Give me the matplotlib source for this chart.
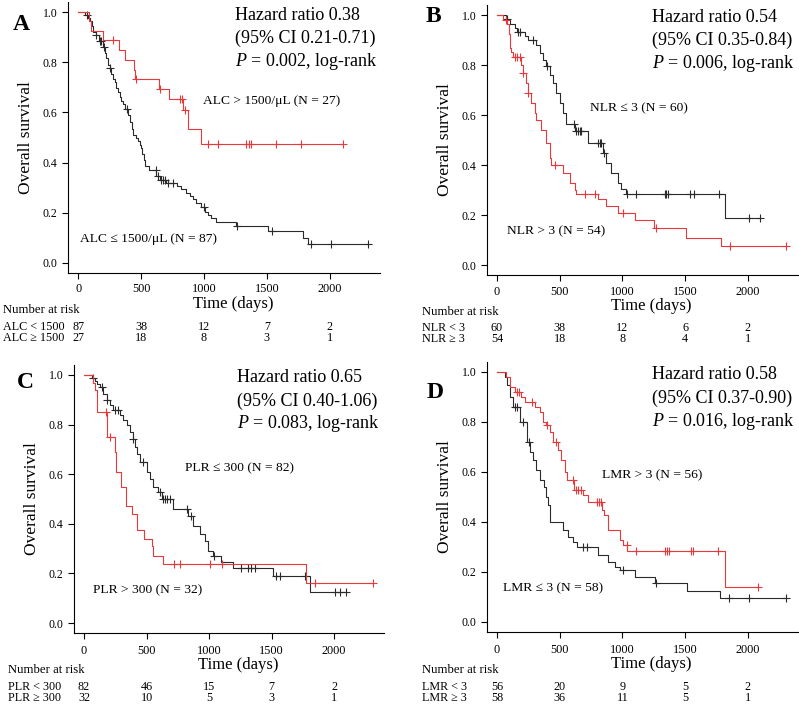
import numpy as np
import matplotlib
matplotlib.use("Agg")
from matplotlib import pyplot as plt
from matplotlib.transforms import blended_transform_factory

plt.rcParams['font.family'] = ['Liberation Serif', 'DejaVu Serif']
plt.rcParams['mathtext.fontset'] = 'custom'
plt.rcParams['mathtext.rm'] = 'Liberation Serif'
plt.rcParams['mathtext.it'] = 'Liberation Serif:italic'

RED = '#e8383b'
BLK = '#2a2a2a'

# ---- panel A: ALC ----
a_lo_t = [53, 80, 93, 108, 119, 140, 165, 195, 215, 225, 240, 252, 265, 280, 291, 305, 318, 330, 345, 358,
          375, 400, 411, 425, 437, 460, 477, 490, 503, 512, 522, 535, 560, 623, 650, 700, 790, 821, 861, 890,
          915, 940, 980, 1007, 1033, 1060, 1099, 1255, 1510, 1788, 1828]
a_lo_s = [.989, .977, .966, .943, .92, .908, .885, .862, .838, .815, .79, .778, .755, .732, .72, .697, .68, .66, .645, .635,
          .612, .588, .56, .535, .51, .497, .485, .47, .458, .435, .412, .385, .372, .345, .332, .319, .306, .293, .28, .266,
          .253, .24, .225, .205, .19, .178, .165, .146, .128, .10, .075]
a_lo_c = [72, 146, 172, 185, 204, 252, 392, 617, 636, 662, 675, 689, 715, 755, 1000, 1264, 1544, 1854, 2013, 2305]
a_hi_t = [87, 106, 199, 326, 371, 442, 450, 644, 723, 834, 877, 980]
a_hi_s = [.963, .926, .889, .85, .81, .77, .735, .695, .652, .61, .535, .475]
a_hi_c = [278, 458, 649, 808, 829, 852, 1033, 1113, 1338, 1359, 1377, 1571, 1775, 2106]

# ---- panel B: NLR ----
b_lo_t = [74, 101, 141, 160, 220, 250, 313, 340, 367, 393, 420, 446, 473, 499, 526, 552, 619, 725, 845, 871,
          911, 964, 991, 1031, 1814]
b_lo_s = [.983, .966, .949, .932, .915, .90, .88, .85, .82, .797, .76, .73, .69, .65, .61, .565, .535, .49, .45, .41,
          .37, .33, .305, .285, .19]
b_lo_c = [80, 167, 186, 287, 395, 611, 632, 645, 658, 672, 805, 818, 831, 851, 1036, 1110, 1336, 1350, 1363, 1540,
          1567, 1769, 2013, 2093]
b_hi_t = [48, 80, 95, 101, 110, 130, 194, 207, 234, 247, 274, 300, 313, 353, 393, 420, 433, 526, 579, 619,
          632, 805, 871, 964, 1097, 1250, 1509, 1782]
b_hi_s = [.981, .963, .926, .87, .852, .833, .80, .77, .73, .69, .65, .61, .58, .54, .49, .43, .40, .37, .33, .30,
          .285, .265, .235, .21, .18, .15, .11, .075]
b_hi_c = [69, 141, 159, 181, 209, 249, 459, 699, 778, 1004, 1265, 1854, 2305]

# ---- panel C: PLR ----
c_lo_t = [61, 88, 101, 125, 154, 181, 208, 234, 287, 314, 341, 367, 389, 407, 426, 447, 500, 527, 548, 594,
          620, 713, 833, 873, 926, 966, 993, 1033, 1099, 1193, 1512, 1810]
c_lo_s = [.988, .975, .963, .95, .925, .90, .88, .86, .84, .82, .80, .77, .74, .71, .68, .65, .61, .58, .55, .53,
          .50, .46, .43, .39, .36, .33, .29, .27, .245, .22, .19, .125]
c_lo_c = [69, 141, 186, 248, 274, 391, 469, 607, 634, 647, 660, 687, 820, 852, 1038, 1259, 1312, 1339, 1366, 1539,
          1565, 1765, 2004, 2044, 2098]
c_hi_t = [75, 88, 106, 186, 248, 256, 293, 335, 381, 421, 479, 540, 554, 634, 1778]
c_hi_s = [.969, .94, .85, .75, .69, .61, .55, .47, .44, .375, .34, .31, .27, .24, .16]
c_hi_c = [176, 208, 721, 767, 1006, 1107, 1845, 2311]

# ---- panel D: LMR ----
d_lo_t = [61, 80, 101, 128, 181, 240, 261, 288, 314, 341, 373, 394, 407, 426, 527, 567, 607, 634, 807, 887,
          940, 980, 1100, 1260, 1513, 1779]
d_lo_s = [.98, .95, .90, .86, .80, .72, .68, .65, .61, .57, .54, .50, .47, .40, .37, .34, .32, .30, .27, .24,
          .22, .21, .18, .155, .125, .095]
d_lo_c = [141, 160, 208, 256, 682, 714, 1001, 1270, 1853, 2013, 2306]
d_hi_t = [69, 101, 141, 194, 221, 301, 341, 367, 389, 421, 447, 487, 514, 541, 554, 612, 687, 727, 839, 852,
          887, 980, 1001, 1039, 1819]
d_hi_s = [.98, .94, .92, .90, .88, .86, .84, .80, .79, .76, .72, .69, .65, .60, .57, .53, .51, .48, .45, .43,
          .37, .33, .31, .285, .14]
d_hi_c = [160, 176, 282, 396, 469, 607, 628, 647, 666, 794, 812, 828, 1033, 1108, 1339, 1353, 1374, 1545, 1566, 1766,
          2085]

risk_times = [0, 500, 1000, 1500, 2000]
a_risk = [[87, 38, 12, 7, 2], [27, 18, 8, 3, 1]]
b_risk = [[60, 38, 12, 6, 2], [54, 18, 8, 4, 1]]
c_risk = [[82, 46, 15, 7, 2], [32, 10, 5, 3, 1]]
d_risk = [[56, 20, 9, 5, 2], [58, 36, 11, 5, 1]]
a_rows = ['ALC < 1500', 'ALC \u2265 1500']
b_rows = ['NLR < 3', 'NLR \u2265 3']
c_rows = ['PLR < 300', 'PLR \u2265 300']
d_rows = ['LMR < 3', 'LMR \u2265 3']

W, H = 799, 709
fig = plt.figure(figsize=(W / 100, H / 100), dpi=100)


def km(ax, t, s, cens, color):
    t = np.asarray(t, float)
    s = np.asarray(s, float)
    cens = np.asarray(cens, float)
    end = max(t.max(), cens.max())
    x = np.concatenate([[0], t, [end]])
    y = np.concatenate([[1.0], s, [s[-1]]])
    ax.step(x, y, where='post', color=color, lw=0.8)
    idx = np.searchsorted(x, cens, side='right') - 1
    ax.plot(cens, y[idx], ls='none', marker='+', ms=6, mew=0.8, color=color)


def panel(box, letter, letter_xy, curves, hr_lines, hr_xy, labels, risk, rows, row_x, y_tick, y_time, y_num, y_rows):
    l, r, top, bot = box
    ax = fig.add_axes([l / W, 1 - bot / H, (r - l) / W, (bot - top) / H])
    for t, s, c, col in curves:
        km(ax, t, s, c, col)
    ax.set_xlim(-80, 2400)
    ax.set_ylim(-0.04, 1.04)
    ax.spines['top'].set_visible(False)
    ax.spines['right'].set_visible(False)
    ax.set_xticks(risk_times)
    ax.set_yticks([0, 0.2, 0.4, 0.6, 0.8, 1.0])
    ax.set_yticklabels(['0.0', '0.2', '0.4', '0.6', '0.8', '1.0'])
    ax.tick_params(labelsize=8.5, length=4, width=0.8, direction='out')
    ax.tick_params(axis='x', labelbottom=False)
    ax.set_ylabel('Overall survival', fontsize=12.5, labelpad=6)

    # x tick labels, axis title and number-at-risk table share the data x scale
    tr = blended_transform_factory(ax.transData, fig.transFigure)
    for xt in risk_times:
        ax.text(xt, 1 - y_tick / H, str(xt), transform=tr, fontsize=8.8, ha='center', va='center')
    ax.text(1230, 1 - y_time / H, 'Time (days)', transform=tr, fontsize=12, ha='center', va='center')
    fig.text(row_x / W, 1 - y_num / H, 'Number at risk', fontsize=9.2, ha='left', va='center')
    for i in range(2):
        fig.text(row_x / W, 1 - y_rows[i] / H, rows[i], fontsize=8.7, ha='left', va='center')
        for xt, n in zip(risk_times, risk[i]):
            ax.text(xt, 1 - y_rows[i] / H, str(n), transform=tr, fontsize=8.7, ha='center', va='center')

    fig.text(letter_xy[0] / W, 1 - letter_xy[1] / H, letter, fontsize=17, fontweight='bold', ha='center', va='center')
    for k, line in enumerate(hr_lines):
        fig.text(hr_xy[0] / W, 1 - (hr_xy[1] + 23 * k) / H, line, fontsize=13, ha='left', va='center')
    for txt, x, y in labels:
        fig.text(x / W, 1 - y / H, txt, fontsize=9.7, ha='left', va='center')
    return ax


panel((68, 380, 2, 273), 'A', (21, 25),
      [(a_lo_t, a_lo_s, a_lo_c, BLK), (a_hi_t, a_hi_s, a_hi_c, RED)],
      ['Hazard ratio 0.38', '(95% CI 0.21-0.71)', '$P$ = 0.002, log-rank'], (235, 15),
      [('ALC > 1500/\u03bcL (N = 27)', 203, 101), ('ALC \u2264 1500/\u03bcL (N = 87)', 80, 239)],
      a_risk, a_rows, 3, 289, 304, 310, (327, 338))

panel((487, 798, 5, 275), 'B', (433, 16),
      [(b_lo_t, b_lo_s, b_lo_c, BLK), (b_hi_t, b_hi_s, b_hi_c, RED)],
      ['Hazard ratio 0.54', '(95% CI 0.35-0.84)', '$P$ = 0.006, log-rank'], (652, 17),
      [('NLR \u2264 3 (N = 60)', 590, 108), ('NLR > 3 (N = 54)', 507, 231)],
      b_risk, b_rows, 422, 292, 306, 312, (328, 339))

panel((74, 384, 365, 633), 'C', (25, 382),
      [(c_lo_t, c_lo_s, c_lo_c, BLK), (c_hi_t, c_hi_s, c_hi_c, RED)],
      ['Hazard ratio 0.65', '(95% CI 0.40-1.06)', '$P$ = 0.083, log-rank'], (237, 378),
      [('PLR \u2264 300 (N = 82)', 185, 468), ('PLR > 300 (N = 32)', 93, 590)],
      c_risk, c_rows, 8, 651, 665, 670, (687, 698))

panel((487, 798, 362, 632), 'D', (435, 393),
      [(d_lo_t, d_lo_s, d_lo_c, BLK), (d_hi_t, d_hi_s, d_hi_c, RED)],
      ['Hazard ratio 0.58', '(95% CI 0.37-0.90)', '$P$ = 0.016, log-rank'], (652, 375),
      [('LMR > 3 (N = 56)', 602, 475), ('LMR \u2264 3 (N = 58)', 503, 588)],
      d_risk, d_rows, 422, 650, 664, 670, (687, 698))

fig.savefig('out.png', dpi=100)
